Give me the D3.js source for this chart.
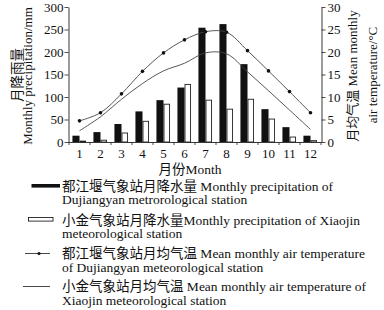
<!DOCTYPE html>
<html><head><meta charset="utf-8">
<script src="https://cdn.jsdelivr.net/npm/d3@7/dist/d3.min.js"></script>
<style>
html,body{margin:0;padding:0;background:#fff;}
svg{display:block;}
text{font-family:"Liberation Serif","Noto Sans CJK SC",serif;fill:#111;}
</style></head>
<body>
<script>
const months = [1,2,3,4,5,6,7,8,9,10,11,12];
const precipDujiangyan = [14,22,40,68,93,121,254,262,173,73,33,14];
const precipXiaojin = [2,4,20,46,84,128,93,73,95,51,11,3];
const tempDujiangyan = [4.7,6.5,10.7,15.7,19.8,22.7,24.5,24.4,20.3,15.8,11.2,6.5];
const tempXiaojin = [2.5,5.6,9.5,13.0,15.8,17.5,19.8,19.6,15.6,11.4,7.1,2.8];
const precipTicks = [0,50,100,150,200,250,300];
const tempTicks = [0,5,10,15,20,25,30];
const legendItems = [
  {type:"black", lines:["都江堰气象站月降水量 Monthly precipitation of","Dujiangyan metrorological station"]},
  {type:"white", lines:["小金气象站月降水量Monthly precipitation of Xiaojin","meteorological station"]},
  {type:"dotline", lines:["都江堰气象站月均气温 Mean monthly air temperature","of Dujiangyan meteorological station"]},
  {type:"line", lines:["小金气象站月均气温 Mean monthly air temperature of","Xiaojin meteorological station"]}
];

const W=384,H=310;
const svg=d3.select("body").append("svg").attr("width",W).attr("height",H);
const L=68.5,R=321.5,T=7,B=142;

const x=d3.scaleBand().domain(months).range([L+0.5,R-0.5]).paddingInner(0).paddingOuter(0);
const x1=d3.scaleBand().domain(["dj","xj"]).range([0,x.bandwidth()]).paddingInner(0).paddingOuter(0.6);
const yP=d3.scaleLinear().domain([0,300]).range([B,T]);
const yT=d3.scaleLinear().domain([0,30]).range([B,T]);

// bars
const g=svg.append("g");
g.selectAll("rect.dj").data(months).enter().append("rect")
  .attr("x",(m)=>x(m)+x1("dj")-0.5).attr("width",x1.bandwidth()+0.5)
  .attr("y",(m,i)=>yP(precipDujiangyan[i])).attr("height",(m,i)=>B-yP(precipDujiangyan[i]))
  .attr("fill","#111");
g.selectAll("rect.xj").data(months).enter().append("rect")
  .attr("x",(m)=>x(m)+x1("xj")+0.5).attr("width",x1.bandwidth()-1)
  .attr("y",(m,i)=>yP(precipXiaojin[i])).attr("height",(m,i)=>B-yP(precipXiaojin[i]))
  .attr("fill","#fff").attr("stroke","#222").attr("stroke-width",0.9);

// lines
const cx=(m)=>x(m)+x.bandwidth()/2;
const lineDj=d3.line().x((d,i)=>cx(months[i])).y(d=>yT(d)).curve(d3.curveCatmullRom.alpha(0.5));
svg.append("path").attr("d",lineDj(tempDujiangyan)).attr("fill","none").attr("stroke","#444").attr("stroke-width",0.9);
svg.append("path").attr("d",lineDj(tempXiaojin)).attr("fill","none").attr("stroke","#444").attr("stroke-width",0.9);
svg.selectAll("circle.dj").data(tempDujiangyan).enter().append("circle")
  .attr("cx",(d,i)=>cx(months[i])).attr("cy",d=>yT(d)).attr("r",1.8).attr("fill","#111");

// axes
const axL=svg.append("g").attr("transform",`translate(${L},0)`)
  .call(d3.axisLeft(yP).tickValues(precipTicks).tickSize(4).tickSizeOuter(0).tickPadding(1));
const axR=svg.append("g").attr("transform",`translate(${R},0)`)
  .call(d3.axisRight(yT).tickValues(tempTicks).tickSize(4).tickSizeOuter(0).tickPadding(2));
const axB=svg.append("g").attr("transform",`translate(0,${B})`)
  .call(d3.axisBottom(x).tickSize(0).tickPadding(7));
const bounds=months.map(m=>x(m)).concat([x(12)+x.bandwidth()]);
svg.selectAll("line.bt").data(bounds).enter().append("line")
  .attr("x1",d=>d).attr("x2",d=>d).attr("y1",B).attr("y2",B+3).attr("stroke","#222").attr("stroke-width",0.8);
[axL,axR,axB].forEach(a=>{
  a.selectAll("path").attr("stroke","#222").attr("stroke-width",0.9);
  a.selectAll("line").attr("stroke","#222").attr("stroke-width",0.8);
  a.selectAll("text").attr("font-size",13).style("font-family","Liberation Serif").attr("fill","#111");
});
axB.select("path").attr("d",`M${L},0.5H${R}`);

// axis titles
svg.append("text").attr("transform","translate(22,75) rotate(-90)").attr("text-anchor","middle")
  .attr("font-size",13.5).text("月降雨量");
svg.append("text").attr("transform","translate(32,76) rotate(-90)").attr("text-anchor","middle")
  .attr("font-size",13).text("Monthly precipitation/mm");
svg.append("text").attr("transform","translate(357,76) rotate(-90)").attr("text-anchor","middle")
  .attr("font-size",13).text("月均气温 Mean monthly");
svg.append("text").attr("transform","translate(377,75) rotate(-90)").attr("text-anchor","middle")
  .attr("font-size",13).text("air temperature/°C");
svg.append("text").attr("x",190).attr("y",174).attr("text-anchor","middle").attr("font-size",13.5).text("月份Month");

// legend
const rowY=[[186,199.5],[220,233.5],[253.5,267],[286.5,300]];
legendItems.forEach((it,k)=>{
  const y0=rowY[k][0];
  if(it.type==="black") svg.append("rect").attr("x",31.5).attr("y",y0-2).attr("width",28.5).attr("height",3.6).attr("fill","#111");
  if(it.type==="white") svg.append("rect").attr("x",28.5).attr("y",y0-2.5).attr("width",24.5).attr("height",3.6).attr("fill","#fff").attr("stroke","#222").attr("stroke-width",0.9);
  if(it.type==="dotline"){
    svg.append("line").attr("x1",25).attr("x2",50).attr("y1",y0).attr("y2",y0).attr("stroke","#333").attr("stroke-width",0.9);
    svg.append("circle").attr("cx",39).attr("cy",y0).attr("r",1.6).attr("fill","#111");
  }
  if(it.type==="line") svg.append("line").attr("x1",23).attr("x2",50).attr("y1",y0).attr("y2",y0).attr("stroke","#333").attr("stroke-width",0.9);
  it.lines.forEach((t,j)=>{
    svg.append("text").attr("x",62).attr("y",rowY[k][j]+4.5).attr("font-size",13.5).text(t);
  });
});
</script>
</body></html>
